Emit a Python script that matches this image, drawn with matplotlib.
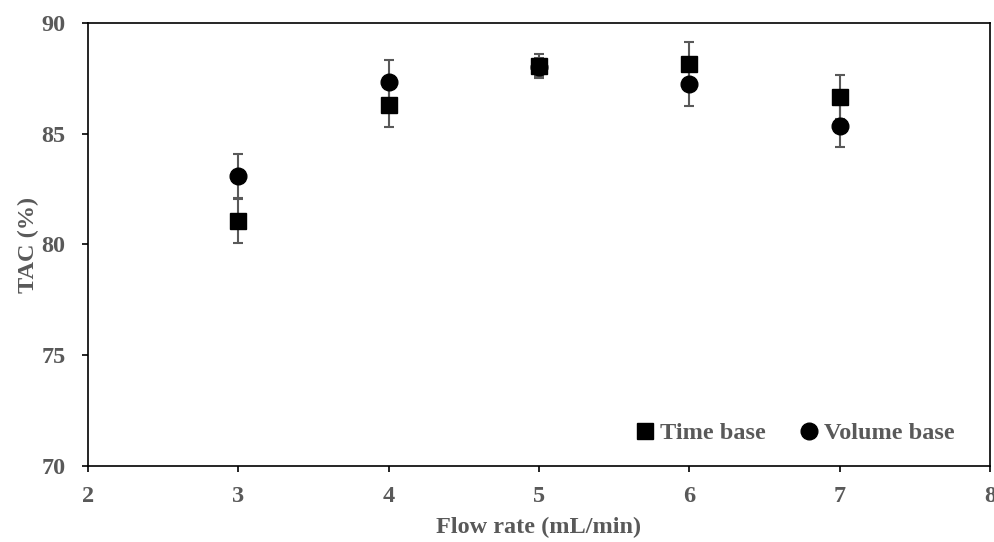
import numpy as np
import matplotlib.pyplot as plt

flow_rate = [3, 4, 5, 6, 7]
time_base = [81.05, 86.3, 88.05, 88.15, 86.65]
time_err = [1.0, 1.0, 0.55, 1.0, 1.0]
volume_base = [83.1, 87.35, 88.0, 87.25, 85.35]
volume_err = [1.0, 1.0, 0.4, 1.0, 0.95]

grey = '#595959'
fs = 17.5
plt.rcParams['font.family'] = ['Liberation Serif', 'DejaVu Serif']
plt.rcParams['font.weight'] = 'bold'

fig = plt.figure(figsize=(9.95, 5.42), dpi=100)
ax = fig.add_axes([0.0884, 0.1402, 0.9066, 0.8174])

# error bars first, markers on top
for y, e in [(volume_base, volume_err), (time_base, time_err)]:
    ax.errorbar(flow_rate, y, yerr=e, fmt='none', ecolor=grey, elinewidth=1.5,
                capsize=3.5, capthick=1.5, zorder=2)
ax.plot(flow_rate, volume_base, 'o', color='black', markersize=12,
        label='Volume base', zorder=3)
ax.plot(flow_rate, time_base, 's', color='black', markersize=11,
        label='Time base', zorder=4)

ax.set_xlim(2, 8)
ax.set_ylim(70, 90)
ax.set_xticks(np.arange(2, 9, 1))
ax.set_yticks(np.arange(70, 91, 5))
ax.tick_params(direction='out', length=4.5, width=1.2, labelsize=fs,
               labelcolor=grey, color='black')
ax.tick_params(axis='x', pad=10)
ax.tick_params(axis='y', pad=11.5)
for lab in ax.get_xticklabels() + ax.get_yticklabels():
    lab.set_fontweight('bold')
for sp in ax.spines.values():
    sp.set_linewidth(1.2)

ax.set_xlabel('Flow rate (mL/min)', fontsize=fs, fontweight='bold', color=grey, labelpad=7)
ax.set_ylabel('TAC (%)', fontsize=fs, fontweight='bold', color=grey, labelpad=2)

h, l = ax.get_legend_handles_labels()
leg = ax.legend([h[1], h[0]], [l[1], l[0]], loc='lower right', ncol=2, frameon=False,
                handletextpad=0.1, columnspacing=1.3, handlelength=1.0,
                bbox_to_anchor=(0.985, 0.0), prop={'size': fs, 'weight': 'bold'})
for t in leg.get_texts():
    t.set_color(grey)

fig.savefig('out.png', dpi=100)
